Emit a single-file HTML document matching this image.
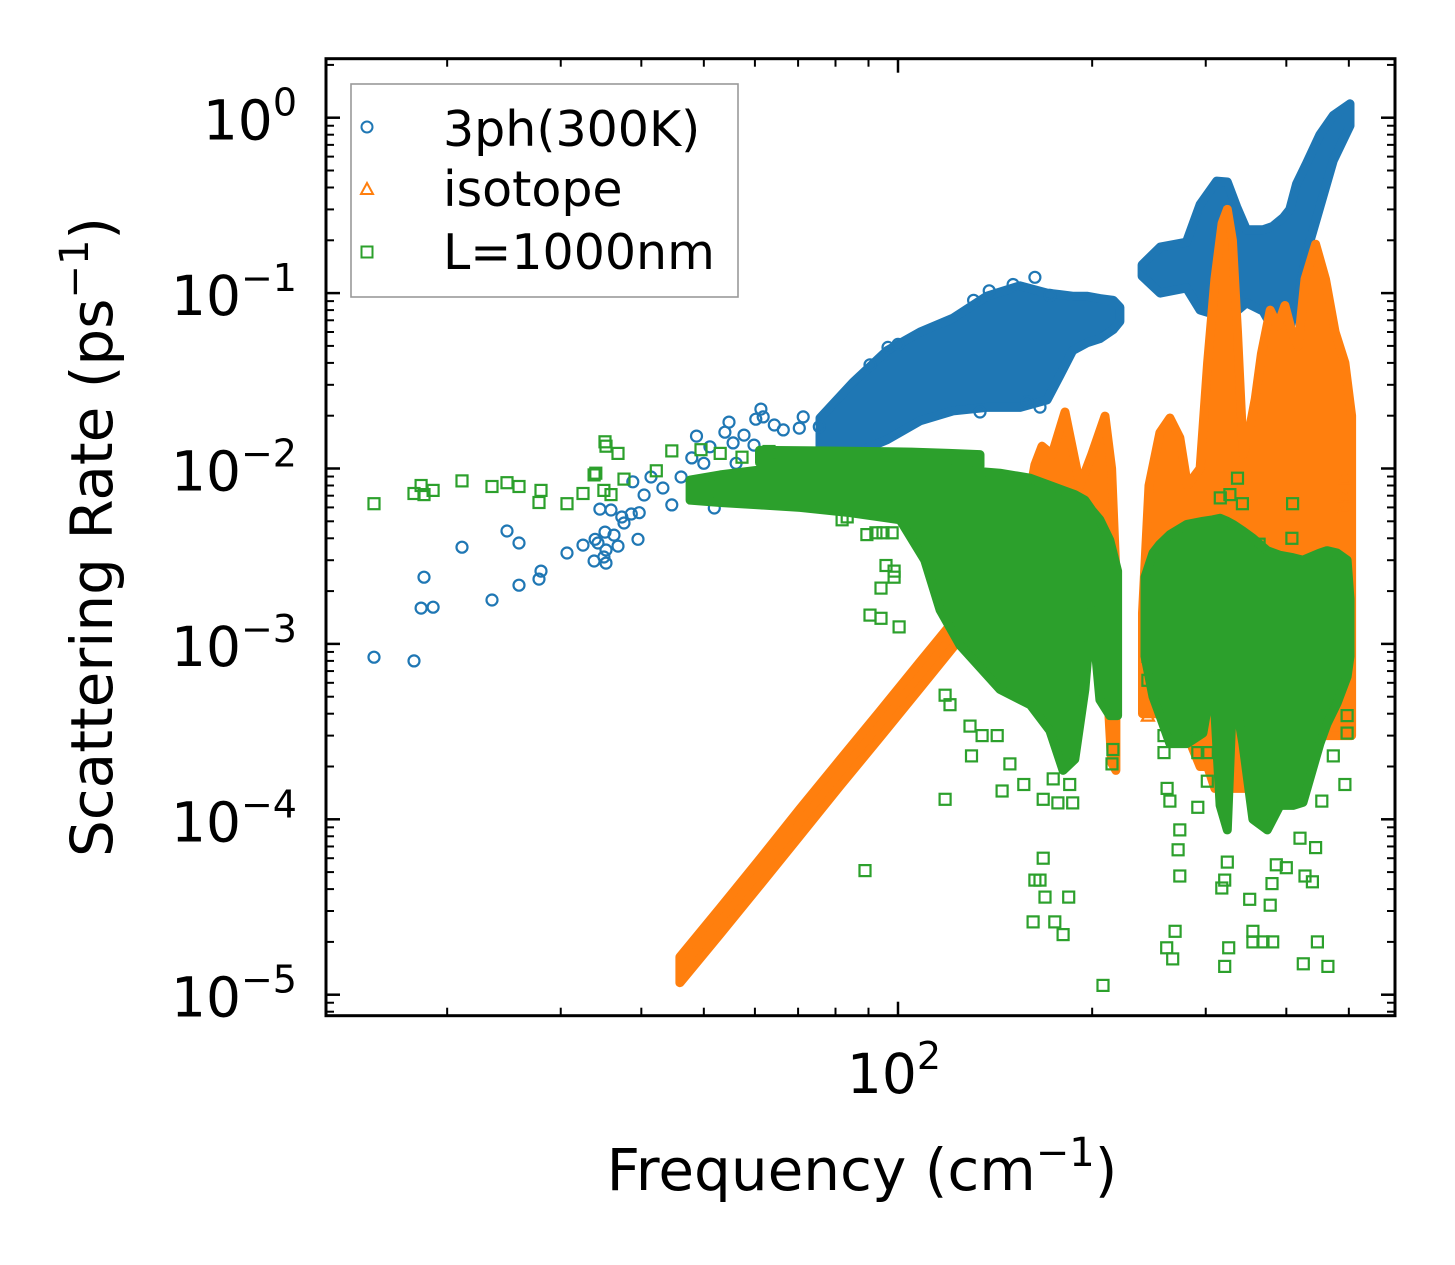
<!DOCTYPE html>
<html><head><meta charset="utf-8"><style>
html,body{margin:0;padding:0;background:#fff;}
svg{display:block;font-family:"DejaVu Sans","Liberation Sans",sans-serif;}
</style></head><body>
<svg id="chart" xmlns="http://www.w3.org/2000/svg" width="1455" height="1265" viewBox="0 0 1455 1265" style="position:absolute;left:0;top:0">
<rect width="1455" height="1265" fill="#fff"/>
<g id="plot"></g>
<g id="axes"></g>
<g id="legend">
 <rect x="351" y="84" width="387" height="213" fill="#fff" stroke="#999" stroke-width="1.6"/>
 <g>
  <circle cx="367" cy="127" r="5.5" fill="none" stroke="#1f77b4" stroke-width="2"/>
  <text x="443" y="146" font-size="49" fill="#000">3ph(300K)</text>
 </g>
 <g>
  <polygon points="367,183 373,194 361,194" fill="none" stroke="#ff7f0e" stroke-width="2"/>
  <text x="443" y="206" font-size="49" fill="#000">isotope</text>
 </g>
 <g>
  <rect x="361.5" y="246.5" width="11" height="11" fill="none" stroke="#2ca02c" stroke-width="2"/>
  <text x="443" y="269" font-size="49" fill="#000">L=1000nm</text>
 </g>
</g>
<text x="862" y="1190" text-anchor="middle" font-size="58" fill="#000">Frequency (cm<tspan dy="-24" font-size="40">−1</tspan><tspan dy="24">)</tspan></text>
<text transform="translate(112,537) rotate(-90)" text-anchor="middle" font-size="58" fill="#000">Scattering Rate (ps<tspan dy="-24" font-size="40">−1</tspan><tspan dy="24">)</tspan></text>
</svg>
<script>
// ---- data (frequency in cm^-1, rate in ps^-1) ----
const blueBand1F = [75.7,85.2,96.2,108.2,121.7,137.3,154.6,170.3,178.3,186.6,196.2,205.6,215.7,220.8];
const blueBand1Lo = [0.0106,0.0121,0.0146,0.0187,0.0213,0.0223,0.0223,0.0246,0.034,0.047,0.052,0.055,0.062,0.069];
const blueBand1Hi = [0.0194,0.031,0.047,0.060,0.072,0.096,0.110,0.100,0.098,0.096,0.096,0.093,0.091,0.083];
const blueBand2F = [239,255,280,294,312,324,335,347,368,381,396,405,415,430,451,473,502];
const blueBand2Lo = [0.125,0.1,0.107,0.08,0.075,0.078,0.079,0.088,0.079,0.063,0.047,0.063,0.086,0.17,0.31,0.57,0.9];
const blueBand2Hi = [0.145,0.183,0.195,0.32,0.435,0.43,0.31,0.23,0.23,0.24,0.27,0.30,0.42,0.55,0.8,1.03,1.2];
const bluePtF = [15.4,17.77,18.41,18.22,19.02,21.09,23.47,24.76,25.85,25.85,27.76,27.96,30.68,32.48,33.79,33.91,34.27,35.13,35.26,35.0,35.26,36.28,36.81,39.53,34.5,35.9,37.3,37.6,38.6,39.7,38.8,40.4,41.4,43.2,44.6,46.1,48.7,47.9,51.1,51.9,54.7,53.9,55.5,57.7,59.8,60.2,61.3,61.8,64.3,66.4,71.3,70.3,75.5,63.1,68.0,71.5,56.1,50.0,163,150.8,138.5,131,172,166,134,158.5,90.5,96.5,100];
const bluePtV = [8.4e-4,8.0e-4,2.4e-3,1.6e-3,1.62e-3,3.56e-3,1.78e-3,4.4e-3,3.76e-3,2.16e-3,2.34e-3,2.6e-3,3.3e-3,3.66e-3,2.97e-3,3.95e-3,3.76e-3,4.34e-3,3.43e-3,3.13e-3,2.89e-3,4.17e-3,3.61e-3,3.95e-3,5.87e-3,5.8e-3,5.29e-3,4.89e-3,5.5e-3,5.6e-3,8.4e-3,7.06e-3,8.95e-3,7.74e-3,6.2e-3,8.95e-3,0.0153,0.0115,0.0133,5.95e-3,0.0184,0.0161,0.014,0.0155,0.0136,0.0191,0.0218,0.0197,0.0177,0.0166,0.0197,0.017,0.0173,0.0102,0.0101,0.0107,0.0107,0.0107,0.123,0.112,0.103,0.091,0.097,0.0224,0.021,0.024,0.039,0.049,0.051];

const isoBand1F = [45.9,53.0,61.1,70.5,81.3,93.8,108.2,124.8,143.9,154.6,163,167.2,173.3,181.5,191.5,199.7,209.4,214.4,217.7];
const isoBand1Lo = [1.17e-5,2.22e-5,4.22e-5,8.1e-5,1.55e-4,2.94e-4,5.6e-4,1.07e-3,1.0e-3,1.2e-3,1.5e-3,2e-3,2e-3,2e-3,2e-3,2e-3,1e-3,2.1e-4,1.9e-4];
const isoBand1Hi = [1.64e-5,3.12e-5,5.94e-5,1.15e-4,2.18e-4,4.14e-4,7.9e-4,1.5e-3,2.5e-3,3.5e-3,0.0105,0.0134,0.012,0.021,0.008,0.012,0.0199,0.01,2.5e-3];
const isoBand2F = [239.4,245,254.7,264,273.5,281,294,302,310,318,324,330,336,343,351,358,366,377.6,388,398,408,417,427.6,444,460,476,493,505];
const isoBand2Lo = [4e-4,4e-4,4e-4,5e-4,5e-4,3e-4,2e-4,2e-4,1.5e-4,1.5e-4,1.5e-4,1.5e-4,1.5e-4,1.5e-4,1.5e-4,1.5e-4,1.5e-4,1.5e-4,1.5e-4,1.5e-4,2e-4,2e-4,2.5e-4,3e-4,3e-4,3e-4,3e-4,3e-4];
const isoBand2Hi = [1.5e-3,8e-3,0.016,0.0194,0.015,0.008,0.01,0.04,0.12,0.25,0.3,0.2,0.06,0.012,0.017,0.025,0.045,0.08,0.065,0.085,0.06,0.05,0.12,0.19,0.12,0.06,0.04,0.02];
const isoPtF = [493,493,493,454,244,244];
const isoPtV = [8.8e-3,6.9e-3,6.0e-3,0.0235,5.6e-4,3.9e-4];

const bdyStreakF = [61,75,90,105,120,134];
const bdyStreakLo = [0.0108,0.0107,0.0106,0.0105,0.0104,0.0103];
const bdyStreakHi = [0.0127,0.0126,0.0125,0.0124,0.0122,0.012];
const bdyBand1F = [47.6,53.0,61.1,70.5,84.3,100.7,110,116.2,124.8,143.9,160.3,172,180.3,188,194.9,199.7,205.6,213,219];
const bdyBand1Lo = [6.6e-3,6.4e-3,6.2e-3,6.0e-3,5.6e-3,5.1e-3,3.0e-3,1.56e-3,9.8e-4,5.5e-4,4.5e-4,3.2e-4,1.9e-4,2.2e-4,5.5e-4,1.56e-3,4.8e-4,3.9e-4,3.9e-4];
const bdyBand1Hi = [8.6e-3,9.2e-3,9.8e-3,9.8e-3,9.8e-3,0.0101,0.0101,0.0101,9.8e-3,9.4e-3,8.8e-3,8.0e-3,7.5e-3,7.1e-3,6.6e-3,5.8e-3,5.1e-3,3.9e-3,2.6e-3];
const bdyBand2F = [241.5,248.5,254.7,264,280.5,297,307.8,315.8,324,330.6,342.6,355,373.7,391,409.6,424.6,451,462.5,479.4,497,502];
const bdyBand2Lo = [8.5e-4,5e-4,3.9e-4,2.7e-4,2.7e-4,3.1e-4,6.6e-4,1.2e-4,8.7e-5,5.8e-4,2.7e-4,1.0e-4,8.7e-5,1.2e-4,1.2e-4,1.25e-4,2.7e-4,3.5e-4,4.6e-4,6.5e-4,8.5e-4];
const bdyBand2Hi = [2.4e-3,3.3e-3,3.7e-3,4.2e-3,4.8e-3,5.0e-3,5.1e-3,5.2e-3,5.0e-3,4.8e-3,4.4e-3,4.0e-3,3.4e-3,3.2e-3,3.1e-3,3.0e-3,3.3e-3,3.4e-3,3.3e-3,3.0e-3,1.8e-3];
const bdyPtF = [15.4,17.77,18.22,18.41,19.02,21.09,23.47,24.76,25.85,27.76,27.96,30.68,32.48,33.79,34.0,35.13,35.26,36.81,35.0,35.9,37.6,42.2,44.6,49.5,53.0,57.3,63.1,81.9,83.4,89.5,92.4,94.8,97.9,95.8,98.6,98.6,94.1,90.5,94.1,100.4,118.3,120.4,129.3,135,130,142.5,145,118.3,149.1,156.7,167.9,177,186.6,174,184.6,215.4,214.7,88.9,167.9,163,166,169,162,175,180.3,183.9,207.9,268.9,261,266.6,273.5,271.8,273.5,291.6,301.7,325.6,321,317.7,321,324,351,355,355,368,377.6,381,380,386,400,427.6,439,447,425,464,420,444,454,493,497,497,473,258.5,258.5,261.3,264,291.6,301.7,336,327,316,342,409,408,363,347,244,244];
const bdyPtV = [6.3e-3,7.2e-3,8.0e-3,7.1e-3,7.5e-3,8.5e-3,7.9e-3,8.3e-3,7.9e-3,6.4e-3,7.5e-3,6.3e-3,7.2e-3,9.2e-3,9.4e-3,0.0142,0.0134,0.0122,7.5e-3,7.1e-3,8.7e-3,9.7e-3,0.0126,0.0128,0.0122,0.0116,0.0125,5.1e-3,5.3e-3,4.2e-3,4.3e-3,4.3e-3,4.3e-3,2.8e-3,2.6e-3,2.4e-3,2.08e-3,1.46e-3,1.4e-3,1.25e-3,5.1e-4,4.5e-4,3.4e-4,3.0e-4,2.3e-4,3.0e-4,1.45e-4,1.3e-4,2.07e-4,1.58e-4,1.3e-4,1.24e-4,1.24e-4,1.7e-4,1.58e-4,2.5e-4,2.07e-4,5.1e-5,6.0e-5,4.5e-5,4.5e-5,3.6e-5,2.6e-5,2.6e-5,2.2e-5,3.6e-5,1.13e-5,2.3e-5,1.85e-5,1.6e-5,8.7e-5,6.7e-5,4.75e-5,1.17e-4,1.65e-4,1.85e-5,1.45e-5,4.06e-5,4.5e-5,5.7e-5,3.5e-5,2.3e-5,2.0e-5,2.0e-5,3.24e-5,2.0e-5,4.3e-5,5.5e-5,5.3e-5,4.75e-5,4.4e-5,2.0e-5,1.5e-5,1.45e-5,7.8e-5,6.9e-5,1.27e-4,1.58e-4,3.1e-4,3.9e-4,2.3e-4,3.0e-4,2.4e-4,1.5e-4,1.27e-4,2.4e-4,2.4e-4,8.8e-3,7.1e-3,6.8e-3,6.3e-3,6.3e-3,4.0e-3,3.7e-3,2.6e-3,6.2e-4,8.5e-4];

const yMajorTicks = [1,0.1,0.01,1e-3,1e-4,1e-5];
const yTickExp = ["0","\u22121","\u22122","\u22123","\u22124","\u22125"];
const xMajorTicks = [100];
const xMinorTicks = [20,30,40,50,60,70,80,90,200,300,400,500];

// ---- scales ----
const X0 = 326, X1 = 1395, Y0 = 58.7, Y1 = 1015.7;
function sx(f){ return 898 + 645*Math.log10(f/100); }
function sy(v){ return 117.7 - 175.4*Math.log10(v); }
const NS = "http://www.w3.org/2000/svg";
const plot = document.getElementById('plot');
const axes = document.getElementById('axes');
function mk(tag, attrs, parent){ const e=document.createElementNS(NS,tag); for(const k in attrs) e.setAttribute(k,attrs[k]); parent.appendChild(e); return e; }

const clip = mk('clipPath',{id:'clip'},plot);
mk('rect',{x:X0,y:Y0,width:X1-X0,height:Y1-Y0},clip);
const inner = mk('g',{'clip-path':'url(#clip)'},plot);

function band(F, Lo, Hi, color, name){
  const pts=[];
  for(let i=0;i<F.length;i++) pts.push(sx(F[i]).toFixed(1)+','+sy(Hi[i]).toFixed(1));
  for(let i=F.length-1;i>=0;i--) pts.push(sx(F[i]).toFixed(1)+','+sy(Lo[i]).toFixed(1));
  const p = mk('polygon',{points:pts.join(' '),fill:color,stroke:color,'stroke-width':9,'stroke-linejoin':'round'},inner);
  
  
}
function circles(F,V,name){
  for(let i=0;i<F.length;i++){
    const c = mk('circle',{cx:sx(F[i]).toFixed(1),cy:sy(V[i]).toFixed(1),r:5.5,fill:'none',stroke:'#1f77b4','stroke-width':2.2},inner);
    
    
  }
}
function tris(F,V,name){
  for(let i=0;i<F.length;i++){
    const x=sx(F[i]), y=sy(V[i]);
    const t = mk('polygon',{points:`${x},${y-6} ${x+6},${y+5} ${x-6},${y+5}`,fill:'none',stroke:'#ff7f0e','stroke-width':2.2},inner);
    
    
  }
}
function squares(F,V,name){
  for(let i=0;i<F.length;i++){
    const x=sx(F[i]), y=sy(V[i]);
    const s = mk('rect',{x:(x-5.5).toFixed(1),y:(y-5.5).toFixed(1),width:11,height:11,fill:'none',stroke:'#2ca02c','stroke-width':2.2},inner);
    
    
  }
}
band(blueBand1F,blueBand1Lo,blueBand1Hi,'#1f77b4','3ph-cloud-low');
band(blueBand2F,blueBand2Lo,blueBand2Hi,'#1f77b4','3ph-cloud-high');
circles(bluePtF,bluePtV,'3ph-point');
band(isoBand1F,isoBand1Lo,isoBand1Hi,'#ff7f0e','isotope-cloud-low');
band(isoBand2F,isoBand2Lo,isoBand2Hi,'#ff7f0e','isotope-cloud-high');
tris(isoPtF,isoPtV,'isotope-point');
band(bdyStreakF,bdyStreakLo,bdyStreakHi,'#2ca02c','boundary-streak');
band(bdyBand1F,bdyBand1Lo,bdyBand1Hi,'#2ca02c','boundary-cloud-low');
band(bdyBand2F,bdyBand2Lo,bdyBand2Hi,'#2ca02c','boundary-cloud-high');
squares(bdyPtF,bdyPtV,'boundary-point');

// ---- axes ----
const frame = mk('rect',{x:X0,y:Y0,width:X1-X0,height:Y1-Y0,fill:'none',stroke:'#000','stroke-width':3},axes);


function tick(x1,y1,x2,y2,w){ mk('line',{x1,y1,x2,y2,stroke:'#000','stroke-width':w},axes); }
for(let k=-6;k<=0;k++){
  for(let m=1;m<=9;m++){
    const v=m*Math.pow(10,k), y=sy(v);
    if(y<Y0+1||y>Y1-1) continue;
    const L = m===1?14:8, w = m===1?2.5:2;
    tick(X0,y,X0+L,y,w); tick(X1,y,X1-L,y,w);
  }
}
yMajorTicks.forEach((v,i)=>{
  const y=sy(v);
  const t=mk('text',{x:297,y:y+22,'text-anchor':'end','font-size':55,fill:'#000'},axes);
  
  
  const a=document.createElementNS(NS,'tspan'); a.textContent='10'; t.appendChild(a);
  const b=document.createElementNS(NS,'tspan'); b.setAttribute('dy','-24'); b.setAttribute('font-size','38'); b.textContent=yTickExp[i]; t.appendChild(b);
});
xMinorTicks.forEach(f=>{ const x=sx(f); tick(x,Y1,x,Y1-8,2); tick(x,Y0,x,Y0+8,2); });
xMajorTicks.forEach(f=>{
  const x=sx(f); tick(x,Y1,x,Y1-14,2.5); tick(x,Y0,x,Y0+14,2.5);
  const t=mk('text',{x:x-4,y:1093,'text-anchor':'middle','font-size':55,fill:'#000'},axes);
  
  
  const a=document.createElementNS(NS,'tspan'); a.textContent='10'; t.appendChild(a);
  const b=document.createElementNS(NS,'tspan'); b.setAttribute('dy','-24'); b.setAttribute('font-size','38'); b.textContent='2'; t.appendChild(b);
});
</script>
</body></html>
